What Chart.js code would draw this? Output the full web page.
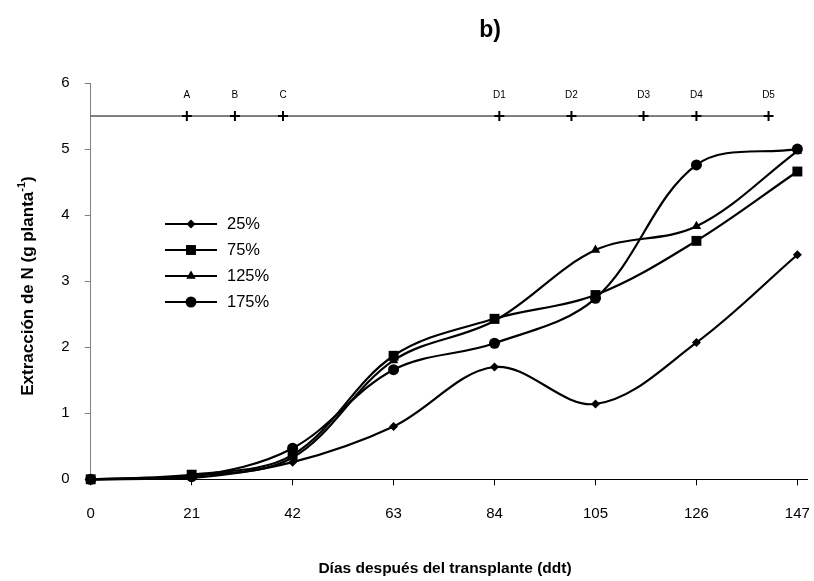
<!DOCTYPE html>
<html>
<head>
<meta charset="utf-8">
<script src="https://cdn.jsdelivr.net/npm/chart.js@4.4.1/dist/chart.umd.min.js"></script>
<style>
  html, body { margin: 0; padding: 0; background: #fff; }
  #wrap { width: 814px; height: 581px; }
</style>
</head>
<body>
<div id="wrap"><canvas id="chart" width="814" height="581"></canvas></div>
<script>
// days after transplant
const days = [0, 21, 42, 63, 84, 105, 126, 147];
const xTicks = [0, 21, 42, 63, 84, 105, 126, 147];
const yTicks = [0, 1, 2, 3, 4, 5, 6];

// N extraction (g planta-1) per treatment
const n25 = [0, 0.02, 0.26, 0.80, 1.70, 1.14, 2.07, 3.40];
const n75 = [0, 0.07, 0.37, 1.87, 2.43, 2.79, 3.61, 4.66];
const n125 = [0, 0.05, 0.33, 1.80, 2.40, 3.47, 3.83, 4.97];
const n175 = [0, 0.04, 0.47, 1.66, 2.06, 2.74, 4.76, 5.00];

const seriesNames = ['25%', '75%', '125%', '175%'];

// phenology marks along the top line
const stageLabels = ['A', 'B', 'C', 'D1', 'D2', 'D3', 'D4', 'D5'];
const stageDays = [20, 30, 40, 85, 100, 115, 126, 141];
const stageLevel = 5.5;

const font = "'Liberation Sans', Arial, sans-serif";

function toPoints(vals) {
    return days.map((d, i) => ({ x: d, y: vals[i] }));
}

function series(label, vals, style, radius) {
    return {
        label: label,
        data: toPoints(vals),
        borderColor: '#000',
        backgroundColor: '#000',
        borderWidth: 2.2,
        pointStyle: style,
        pointRadius: radius,
        pointBorderWidth: 0,
        pointBackgroundColor: '#000',
        tension: 0.35,
        clip: false
    };
}

const stagePoints = [{ x: 0, y: stageLevel }].concat(stageDays.map(d => ({ x: d, y: stageLevel })));

// legend drawn inside the plot, plus stage letters and titles
const extrasPlugin = {
    id: 'extras',
    afterDatasetsDraw(chart) {
        const ctx = chart.ctx;
        ctx.save();

        // stage letters
        const meta = chart.getDatasetMeta(4);
        ctx.fillStyle = '#000';
        ctx.font = `10px ${font}`;
        ctx.textAlign = 'center';
        ctx.textBaseline = 'middle';
        meta.data.slice(1).forEach((pt, i) => {
            ctx.fillText(stageLabels[i], pt.x, pt.y - 21);
        });

        // legend
        const rowY = [224, 250, 276, 302];
        for (let i = 0; i < 4; i++) {
            const ds = chart.data.datasets[i];
            const y = rowY[i];
            ctx.strokeStyle = '#000';
            ctx.lineWidth = 2.2;
            ctx.beginPath();
            ctx.moveTo(165, y);
            ctx.lineTo(217, y);
            ctx.stroke();
            ctx.fillStyle = '#000';
            Chart.helpers.drawPoint(ctx, { pointStyle: ds.pointStyle, radius: ds.pointRadius, rotation: 0, borderWidth: 0 }, 191, y);
            ctx.font = `16.5px ${font}`;
            ctx.textAlign = 'left';
            ctx.textBaseline = 'middle';
            ctx.fillText(seriesNames[i], 227, y);
        }

        // panel title
        ctx.font = `bold 23px ${font}`;
        ctx.textAlign = 'center';
        ctx.textBaseline = 'alphabetic';
        ctx.fillText('b)', 490, 37);

        // x title
        ctx.font = `bold 15.5px ${font}`;
        ctx.textBaseline = 'middle';
        ctx.fillText('Días después del transplante (ddt)', 445, 569);

        // y title with superscript
        ctx.translate(28, 286);
        ctx.rotate(-Math.PI / 2);
        const main = 'Extracción de N (g planta';
        const sup = '-1';
        const tail = ')';
        ctx.textBaseline = 'middle';
        ctx.font = `bold 17px ${font}`;
        const w1 = ctx.measureText(main).width;
        const w3 = ctx.measureText(tail).width;
        ctx.font = `bold 11px ${font}`;
        const w2 = ctx.measureText(sup).width;
        let x = -(w1 + w2 + w3) / 2;
        ctx.textAlign = 'left';
        ctx.font = `bold 17px ${font}`;
        ctx.fillText(main, x, 0);
        x += w1;
        ctx.font = `bold 11px ${font}`;
        ctx.fillText(sup, x, -6);
        x += w2;
        ctx.font = `bold 17px ${font}`;
        ctx.fillText(tail, x, 0);

        ctx.restore();
    }
};

new Chart(document.getElementById('chart'), {
    type: 'line',
    data: {
        datasets: [
            series('25%', n25, 'rectRot', 4.5),
            series('75%', n75, 'rect', 7),
            series('125%', n125, 'triangle', 5.5),
            series('175%', n175, 'circle', 5.5),
            {
                label: 'stages',
                data: stagePoints,
                borderColor: '#000',
                borderWidth: 1,
                tension: 0,
                pointStyle: 'crossRot',
                pointRotation: 45,
                pointRadius: stagePoints.map((p, i) => i === 0 ? 0 : 5),
                pointBorderWidth: 2,
                pointBorderColor: '#000',
                clip: false
            }
        ]
    },
    options: {
        responsive: false,
        animation: false,
        layout: { padding: { left: 0, right: 0, top: 83, bottom: 0 } },
        plugins: {
            legend: { display: false },
            tooltip: { enabled: false }
        },
        scales: {
            x: {
                type: 'linear',
                min: 0,
                max: 149,
                afterBuildTicks: (s) => { s.ticks = xTicks.map(v => ({ value: v })); },
                afterFit: (s) => { s.height = 101.7; s.paddingLeft = 0; s.paddingRight = 0; },
                border: { color: '#000', width: 1 },
                grid: { drawOnChartArea: false, color: '#000', tickLength: 6 },
                ticks: { color: '#000', font: { family: font, size: 15 }, padding: 20, maxRotation: 0, autoSkip: false }
            },
            y: {
                min: 0,
                max: 6,
                afterBuildTicks: (s) => { s.ticks = yTicks.map(v => ({ value: v })); },
                afterFit: (s) => { s.width = 90.7; s.paddingTop = 0; s.paddingBottom = 0; },
                border: { color: '#808080', width: 1 },
                grid: { drawOnChartArea: false, color: '#808080', tickLength: 6 },
                ticks: { color: '#000', font: { family: font, size: 15 }, padding: 15 }
            }
        }
    },
    plugins: [extrasPlugin]
});
</script>
</body>
</html>
